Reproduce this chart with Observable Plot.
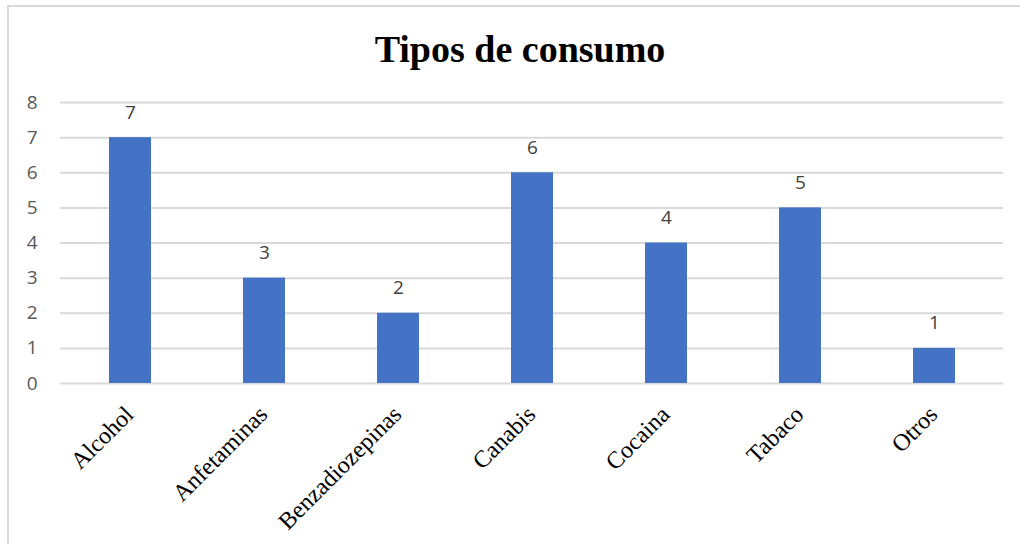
<!DOCTYPE html>
<html>
<head>
<meta charset="utf-8">
<script src="https://cdn.jsdelivr.net/npm/d3@7"></script>
<script src="https://cdn.jsdelivr.net/npm/@observablehq/plot@0.6"></script>
<style>
  html, body { margin: 0; padding: 0; background: #fff; }
  #wrap { position: relative; width: 1020px; height: 544px; overflow: hidden; }
  #frame { position: absolute; left: 7px; top: 5px; width: 1100px; height: 700px;
           border-left: 2px solid #d9d9d9; border-top: 2px solid #d9d9d9; box-sizing: border-box; }
  #title { position: relative; height: 85px; text-align: center;
           font-family: "Liberation Serif", "Times New Roman", serif; font-weight: bold;
           font-size: 38px; line-height: 1; padding-top: 30px; box-sizing: border-box; color: #000;
           padding-left: 20px; }
  #chart { position: relative; }
</style>
</head>
<body>
<div id="wrap">
  <div id="frame"></div>
  <div id="title">Tipos de consumo</div>
  <div id="chart"></div>
</div>
<script>
const categories = ["Alcohol", "Anfetaminas", "Benzadiozepinas", "Canabis", "Cocaina", "Tabaco", "Otros"];
const values = [7, 3, 2, 6, 4, 5, 1];
const yTicks = [0, 1, 2, 3, 4, 5, 6, 7, 8];

const data = categories.map((c, i) => ({category: c, value: values[i]}));

const chart = Plot.plot({
  width: 1020,
  height: 459,
  marginLeft: 60,
  marginRight: 17,
  marginTop: 17,
  marginBottom: 161,
  style: {background: "transparent", overflow: "visible"},
  x: {domain: categories, paddingInner: 0.688, paddingOuter: 0.344, label: null},
  y: {domain: [0, 8], label: null},
  marks: [
    Plot.gridY(yTicks, {stroke: "#d9d9d9", strokeOpacity: 1, strokeWidth: 2}),
    Plot.barY(data, {x: "category", y: "value", fill: "#4472C4"}),
    Plot.text(data, {x: "category", y: "value", text: d => String(d.value), dy: -25,
      fill: "#404040", fontSize: 19, fontFamily: "Open Sans, Liberation Sans, sans-serif"}),
    Plot.axisY(yTicks, {tickSize: 0, tickPadding: 23, fontSize: 19, fill: "#595959",
      fontFamily: "Open Sans, Liberation Sans, sans-serif", label: null}),
    Plot.axisX({tickSize: 0, tickRotate: -45, tickPadding: 27, dx: -1, fontSize: 24,
      fill: "#000", fontFamily: "Liberation Serif, Times New Roman, serif", label: null})
  ]
});
document.getElementById("chart").appendChild(chart);
</script>
</body>
</html>
